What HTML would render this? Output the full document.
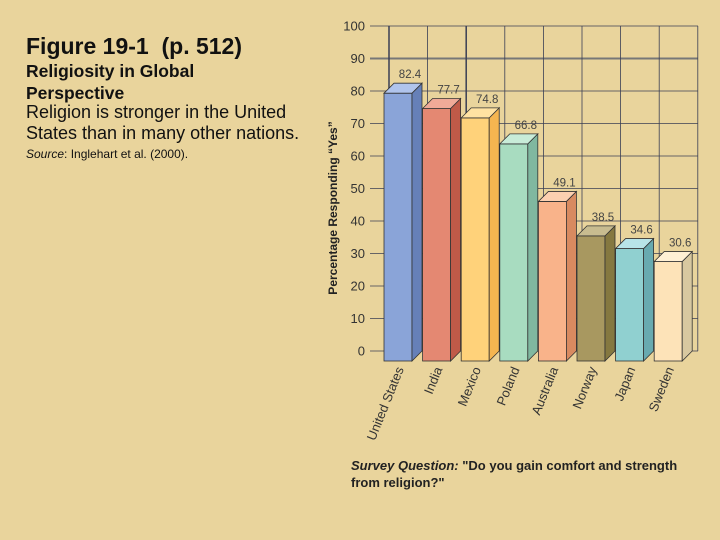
<!DOCTYPE html>
<html><head><meta charset="utf-8"><style>
html,body{margin:0;padding:0}
body{width:720px;height:540px;overflow:hidden;background:#e9d49c;font-family:"Liberation Sans",sans-serif;position:relative}
.t{position:absolute;left:26px;color:#111;white-space:nowrap}
</style></head><body>
<div class="t" style="top:33px;font-size:23px;font-weight:bold">Figure 19-1&nbsp; (p. 512)</div>
<div class="t" style="top:60px;font-size:17.5px;font-weight:bold;line-height:22px">Religiosity in Global<br>Perspective</div>
<div class="t" style="top:102px;font-size:18px;line-height:21px">Religion is stronger in the United<br>States than in many other nations.</div>
<div class="t" style="top:147px;font-size:12px"><i>Source</i>: Inglehart et al. (2000).</div>
<svg id="chart" width="720" height="540" style="position:absolute;left:0;top:0" xmlns="http://www.w3.org/2000/svg"></svg>
<script>
const categories=["United States","India","Mexico","Poland","Australia","Norway","Japan","Sweden"];
const values=[82.4,77.7,74.8,66.8,49.1,38.5,34.6,30.6];
const valueLabels=["82.4","77.7","74.8","66.8","49.1","38.5","34.6","30.6"];
const yTicks=[0,10,20,30,40,50,60,70,80,90,100];
const frontColors=["#8aa4d8","#e48872","#ffd27a","#a8dcc0","#f9b38a","#a89860","#90d0d0","#fde3b8"];
const sideColors=["#6680b8","#c05a48","#f5b550","#80b8a0","#d88a60","#857840","#68aab0","#d8c8a0"];
const topColors=["#b0c4ec","#f0aa98","#ffe2a2","#c8ecd8","#fcd0b0","#c8bc90","#b8e4e8","#fff0d4"];
const NS="http://www.w3.org/2000/svg";
const svg=document.getElementById('chart');
const y0=351,y100=26,gx0=370,gx1=698,D=10;
function y(v){return y0-(v/100)*(y0-y100);}
function slot(i){return 389+i*38.6;}
function mk(tag,attrs,parent){const e=document.createElementNS(NS,tag);for(const k in attrs)e.setAttribute(k,attrs[k]);(parent||svg).appendChild(e);return e;}
yTicks.forEach(t=>{
  const l=mk('line',{x1:gx0,x2:gx1,y1:y(t),y2:y(t),stroke:t===90?'#777':'#3a3f55','stroke-width':t===90?2:0.8});
  
  
  const tx=mk('text',{x:365,y:y(t)+4.5,'text-anchor':'end','font-size':13,fill:'#333'});
  tx.textContent=t;
  
  
});
for(let i=0;i<=8;i++){
  const l=mk('line',{x1:slot(i),x2:slot(i),y1:y100,y2:y0,stroke:'#3a3f55','stroke-width':i===0||i===2?1.5:0.8});
  
  
}
const at=mk('text',{transform:'translate(337,208) rotate(-90)','text-anchor':'middle','font-size':12,'font-weight':'bold',fill:'#222'});
at.textContent='Percentage Responding “Yes”';


values.forEach((v,i)=>{
  const g=mk('g',{});
  
  
  const xl=slot(i)-5, w=28, bot=y0+D, top=y(v)+D;
  mk('rect',{x:xl,y:top,width:w,height:bot-top,fill:frontColors[i],stroke:'#333','stroke-width':0.8},g);
  mk('polygon',{points:`${xl+w},${top} ${xl+w+D},${top-D} ${xl+w+D},${bot-D} ${xl+w},${bot}`,fill:sideColors[i],stroke:'#333','stroke-width':0.8},g);
  mk('polygon',{points:`${xl},${top} ${xl+D},${top-D} ${xl+w+D},${top-D} ${xl+w},${top}`,fill:topColors[i],stroke:'#333','stroke-width':0.8},g);
  const vl=mk('text',{x:xl+w/2+12,y:y(v)-5,'text-anchor':'middle','font-size':11.5,fill:'#444'});
  vl.textContent=valueLabels[i];
  
  
  const cl=mk('text',{transform:`translate(${xl+w/2+6},${369}) rotate(-68)`,'text-anchor':'end','font-size':13,fill:'#333'});
  cl.textContent=categories[i];
  
  
});
</script>
<div class="t" style="left:351px;top:457px;font-size:13px;font-weight:bold;line-height:17px;color:#222"><i>Survey Question:</i> "Do you gain comfort and strength<br>from religion?"</div>
</body></html>
